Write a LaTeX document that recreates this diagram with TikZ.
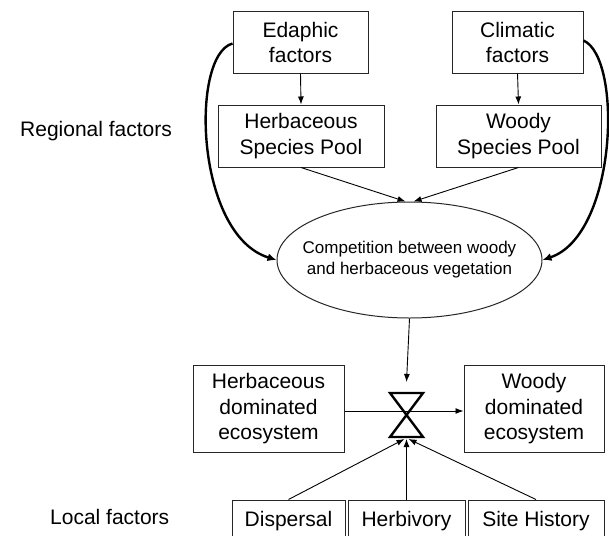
\documentclass[tikz,border=0pt]{standalone}
\usepackage{fontspec}
\setmainfont{Liberation Sans}
\usetikzlibrary{arrows.meta,shapes.geometric}
\begin{document}
\begin{tikzpicture}[x=1pt,y=-1pt,
  box/.style={draw=black!85,line width=1pt,rectangle,align=center,inner sep=0pt,
    font=\fontsize{21}{25.5}\selectfont},
  lab/.style={inner sep=0pt,font=\fontsize{21}{25.5}\selectfont},
  thin/.style={line width=0.9pt,-{Latex[length=8pt,width=6pt]}},
  thick/.style={line width=2.4pt,-{Latex[length=9pt,width=8pt]}}]
\useasboundingbox (0,0) rectangle (609,535);
% top boxes
\node[box,minimum width=135pt,minimum height=61pt] (edaphic) at (300.5,42.5) {Edaphic\\factors};
\node[box,minimum width=131pt,minimum height=61pt] (climatic) at (517.5,42.5) {Climatic\\factors};
\node[box,minimum width=166pt,minimum height=62pt] (herbpool) at (301,136) {Herbaceous\\Species Pool};
\node[box,minimum width=165pt,minimum height=62pt] (woodypool) at (518.5,136) {Woody\\Species Pool};
\node[draw=black!85,line width=1pt,ellipse,minimum width=265pt,minimum height=116pt,inner sep=0pt,
  label={[align=center,font=\fontsize{17}{21}\selectfont,inner sep=0pt]center:Competition between woody\\and herbaceous vegetation}]
  (comp) at (409.5,260) {};
% middle boxes
\node[box,minimum width=151pt,minimum height=87pt] (herbdom) at (268.5,409) {Herbaceous\\dominated\\ecosystem};
\node[box,minimum width=140pt,minimum height=87pt] (woodydom) at (534,409) {Woody\\dominated\\ecosystem};
% bottom boxes
\node[box,minimum width=113pt,minimum height=42pt] (dispersal) at (288.5,521) {Dispersal};
\node[box,minimum width=117pt,minimum height=42pt] (herbivory) at (406.5,521) {Herbivory};
\node[box,minimum width=136pt,minimum height=42pt] (sitehist) at (536,521) {Site History};
% labels
\node[lab,anchor=west] (regional) at (20,131) {Regional factors};
\node[lab,anchor=west] (local) at (50,517) {Local factors};
% hourglass
\coordinate (hgtop) at (406.5,382);
\coordinate (hgc) at (406.5,415);
\coordinate (hgbot) at (406.5,439);
\draw[line width=2.4pt,line join=miter] (390,393) -- (423,393) -- (390,437) -- (423,437) -- cycle;
% arrows
\draw[thin] (edaphic.south) -- (herbpool.north);
\draw[thin] (climatic.south) -- (woodypool.north);
\draw[thin] (herbpool.south) -- ([xshift=-4pt]comp.north);
\draw[thin] (woodypool.south) -- ([xshift=4pt]comp.north);
\draw[thick] ([yshift=-1pt]edaphic.west) .. controls (190,55) and (195,235) .. (comp.west);
\draw[thick] ([yshift=2pt]climatic.east) .. controls (623,58) and (617,235) .. (comp.east);
\draw[thin] (comp.south) -- (hgtop);
\draw[thin] (herbdom.east |- hgc) ++(0,-4) coordinate (hs) -- (woodydom.west |- hs);
\draw[thin] (dispersal.north) -- ([xshift=-2pt]hgbot);
\draw[thin] (herbivory.north) -- (hgbot);
\draw[thin] (sitehist.north) -- ([xshift=2pt]hgbot);
\end{tikzpicture}
\end{document}
